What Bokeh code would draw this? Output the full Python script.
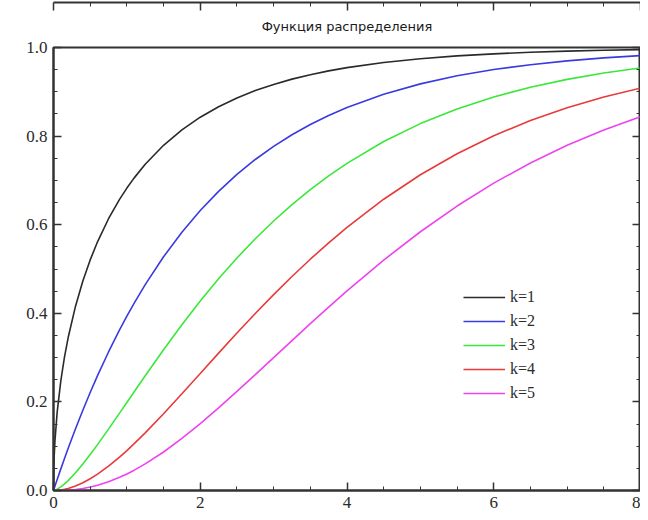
from bokeh.plotting import figure
from bokeh.models import (Range1d, LinearAxis, Legend, LegendItem, FixedTicker,
                          NumeralTickFormatter, CustomJSTickFormatter, Title)
from bokeh.embed import file_html
from bokeh.resources import INLINE

# values
x = [0, 0.005, 0.01, 0.02, 0.05, 0.1, 0.15, 0.2, 0.3, 0.4, 0.5, 0.6, 0.75, 0.9,
     1, 1.1, 1.25, 1.5, 1.75, 2, 2.25, 2.5, 2.75, 3, 3.25, 3.5, 3.75, 4, 4.5,
     5, 5.5, 6, 6.5, 7, 7.5, 8]
k1 = [0, 0.0564, 0.0797, 0.1125, 0.1769, 0.2482, 0.3015, 0.3453, 0.4161, 0.4729,
      0.5205, 0.5614, 0.6135, 0.6572, 0.6827, 0.7057, 0.7364, 0.7793, 0.8141,
      0.8427, 0.8664, 0.8862, 0.9027, 0.9167, 0.9286, 0.9386, 0.9472, 0.9545,
      0.9661, 0.9747, 0.9810, 0.9857, 0.9892, 0.9918, 0.9938, 0.9953]
k2 = [0, 0.0025, 0.0050, 0.0100, 0.0247, 0.0488, 0.0723, 0.0952, 0.1393, 0.1813,
      0.2212, 0.2592, 0.3127, 0.3624, 0.3935, 0.4231, 0.4647, 0.5276, 0.5831,
      0.6321, 0.6753, 0.7135, 0.7472, 0.7769, 0.8031, 0.8262, 0.8467, 0.8647,
      0.8946, 0.9179, 0.9361, 0.9502, 0.9612, 0.9698, 0.9765, 0.9817]
k3 = [0, 0.0001, 0.0003, 0.0008, 0.0030, 0.0081, 0.0148, 0.0224, 0.0399, 0.0598,
      0.0811, 0.1036, 0.1386, 0.1746, 0.1987, 0.2229, 0.2590, 0.3177, 0.3741,
      0.4276, 0.4778, 0.5248, 0.5682, 0.6084, 0.6453, 0.6793, 0.7103, 0.7385,
      0.7877, 0.8282, 0.8614, 0.8884, 0.9103, 0.9281, 0.9424, 0.9540]
k4 = [0, 0, 0, 0, 0.0003, 0.0012, 0.0027, 0.0047, 0.0102, 0.0175,
      0.0265, 0.0369, 0.0550, 0.0754, 0.0902, 0.1057, 0.1302, 0.1734, 0.2184,
      0.2642, 0.3101, 0.3554, 0.3995, 0.4422, 0.4831, 0.5221, 0.5591, 0.5940,
      0.6575, 0.7127, 0.7603, 0.8009, 0.8352, 0.8641, 0.8883, 0.9084]
k5 = [0, 0, 0, 0, 0, 0.0002, 0.0004, 0.0009, 0.0023, 0.0047,
      0.0079, 0.0120, 0.0199, 0.0298, 0.0374, 0.0459, 0.0600, 0.0869, 0.1175,
      0.1509, 0.1864, 0.2236, 0.2615, 0.3000, 0.3385, 0.3767, 0.4141, 0.4505,
      0.5201, 0.5841, 0.6421, 0.6938, 0.7394, 0.7794, 0.8139, 0.8438]
series = [k1, k2, k3, k4, k5]
labels = ["k=1", "k=2", "k=3", "k=4", "k=5"]
colors = ["#2a2a2a", "#3a3ae0", "#3ae83a", "#e83a3a", "#ee44ee"]
x_ticks = [0, 2, 4, 6, 8]
x_minor = [0.5, 1, 1.5, 2.5, 3, 3.5, 4.5, 5, 5.5, 6.5, 7, 7.5]
y_ticks = [0.0, 0.2, 0.4, 0.6, 0.8, 1.0]
y_minor = [0.05, 0.1, 0.15, 0.25, 0.3, 0.35, 0.45, 0.5, 0.55, 0.65, 0.7, 0.75,
           0.85, 0.9, 0.95]
title_text = "Функция распределения"

SERIF = "Liberation Serif"

p = figure(frame_width=587, frame_height=443, output_backend="svg",
           toolbar_location=None, x_range=Range1d(0, 8), y_range=Range1d(0, 1),
           min_border_left=53, min_border_right=0, min_border_top=47,
           min_border_bottom=28)
p.title.text = ""
p.title.text_font = SERIF
p.grid.visible = False
p.outline_line_color = "#333333"
p.outline_line_width = 2

main_title = Title(text=title_text, align="center", text_font="DejaVu Sans",
                   text_font_size="13px", text_font_style="normal",
                   text_color="#1a1a1a", standoff=28)
p.add_layout(main_title, "above")

top_axis = LinearAxis()
right_axis = LinearAxis()
p.add_layout(top_axis, "above")
p.add_layout(right_axis, "right")

bottom_axis = p.below[0]
left_axis = p.left[0]

bottom_axis.ticker = FixedTicker(ticks=x_ticks, minor_ticks=x_minor)
top_axis.ticker = FixedTicker(ticks=x_ticks, minor_ticks=x_minor)
left_axis.ticker = FixedTicker(ticks=y_ticks, minor_ticks=y_minor)
right_axis.ticker = FixedTicker(ticks=y_ticks, minor_ticks=y_minor)
left_axis.formatter = NumeralTickFormatter(format="0.0")
bottom_axis.formatter = NumeralTickFormatter(format="0")
blank = CustomJSTickFormatter(code="return '';")
top_axis.formatter = blank
right_axis.formatter = blank

for ax in [bottom_axis, left_axis, top_axis, right_axis]:
    ax.axis_line_color = "#333333"
    ax.axis_line_width = 2
    ax.major_tick_in = 8
    ax.major_tick_out = 0
    ax.minor_tick_in = 4
    ax.minor_tick_out = 0
    ax.major_tick_line_color = "#333333"
    ax.minor_tick_line_color = "#333333"
    ax.major_tick_line_width = 1.5
    ax.major_label_text_font = SERIF
    ax.major_label_text_font_size = "17px"
    ax.major_label_text_color = "#2a2a2a"
    ax.major_label_standoff = 6
top_axis.major_label_standoff = 0
right_axis.major_label_standoff = 0

items = []
for s, lab, c in zip(series, labels, colors):
    r = p.line(x, s, line_color=c, line_width=1.6)
    items.append(LegendItem(label=lab, renderers=[r]))

legend = Legend(items=items, location=(410, 85), glyph_width=42,
                glyph_height=24, label_height=24, spacing=0, padding=0,
                margin=0, label_standoff=5, border_line_alpha=0,
                background_fill_alpha=0, label_text_font=SERIF,
                label_text_font_size="16px", label_text_color="#2a2a2a")
p.add_layout(legend, "center")

open("out.html", "w").write(file_html(p, INLINE))
